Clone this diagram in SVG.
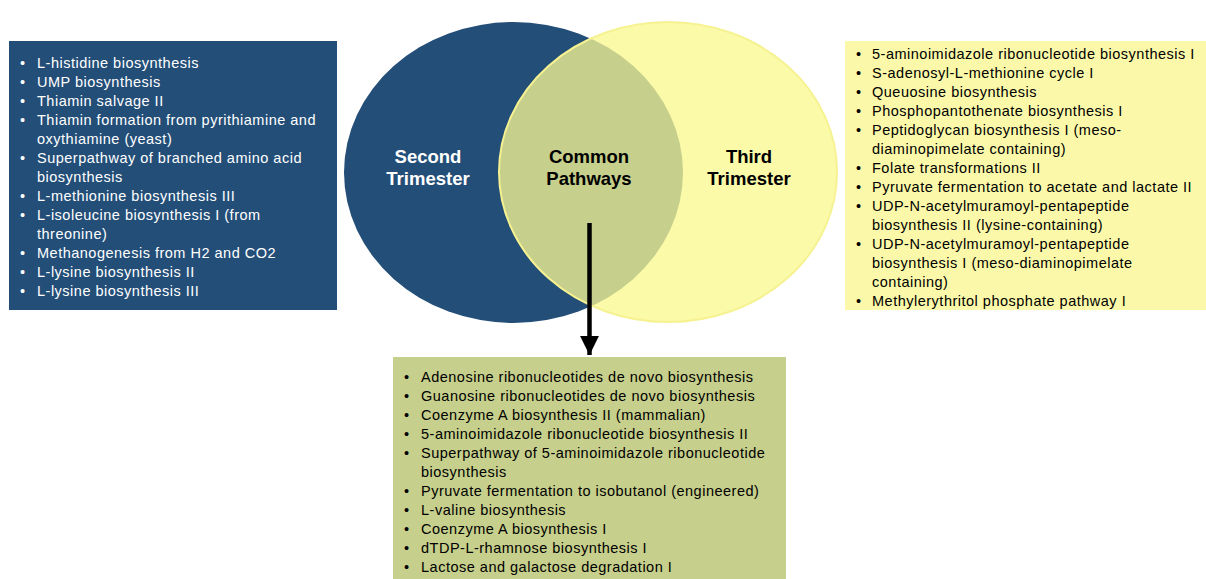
<svg xmlns="http://www.w3.org/2000/svg" width="1206" height="579" viewBox="0 0 1206 579">
<defs>
<style>
text{font-family:"Liberation Sans",Arial,sans-serif;}
.li{font-size:14.5px;letter-spacing:0.5px;}
.w{fill:#ffffff;}
.k{fill:#000000;}
.lbl{font-size:18.5px;font-weight:bold;text-anchor:middle;}
</style>
<clipPath id="yclip"><ellipse cx="668" cy="172" rx="169" ry="150"/></clipPath>
<marker id="ah" viewBox="0 0 10 10" refX="10" refY="5" markerWidth="4.2" markerHeight="4.2" orient="auto" markerUnits="strokeWidth"><path d="M0,0 L10,5 L0,10 z" fill="#000"/></marker>
</defs>
<rect width="1206" height="579" fill="#ffffff"/>
<g id="venn">
<ellipse cx="513.5" cy="172.5" rx="169.5" ry="150.5" fill="#234e78"/>
<ellipse cx="668" cy="172" rx="169" ry="150" fill="#fbfaa9"/>
<ellipse cx="513.5" cy="172.5" rx="169.5" ry="150.5" fill="#c6cf8b" clip-path="url(#yclip)"/>
<ellipse cx="668" cy="172" rx="169" ry="150" fill="none" stroke="#f6f291" stroke-width="2"/>
</g>
<g id="second-label"><text class="lbl w" x="428" y="163">Second</text><text class="lbl w" x="428" y="185">Trimester</text></g>
<g id="common-label"><text class="lbl k" x="589" y="163">Common</text><text class="lbl k" x="589" y="185">Pathways</text></g>
<g id="third-label"><text class="lbl k" x="749" y="163">Third</text><text class="lbl k" x="749" y="185">Trimester</text></g>
<g id="connectors">
<line x1="589.5" y1="223" x2="589.5" y2="355" stroke="#000" stroke-width="4.5" marker-end="url(#ah)"/>
</g>
<g id="second-list">
<rect x="9" y="41" width="328" height="269" fill="#234e78"/>
<g class="li w">
<text x="20" y="68">•</text><text x="37" y="68">L-histidine biosynthesis</text>
<text x="20" y="87">•</text><text x="37" y="87">UMP biosynthesis</text>
<text x="20" y="106">•</text><text x="37" y="106">Thiamin salvage II</text>
<text x="20" y="125">•</text><text x="37" y="125">Thiamin formation from pyrithiamine and</text>
<text x="37" y="144">oxythiamine (yeast)</text>
<text x="20" y="163">•</text><text x="37" y="163">Superpathway of branched amino acid</text>
<text x="37" y="182">biosynthesis</text>
<text x="20" y="201">•</text><text x="37" y="201">L-methionine biosynthesis III</text>
<text x="20" y="220">•</text><text x="37" y="220">L-isoleucine biosynthesis I (from</text>
<text x="37" y="239">threonine)</text>
<text x="20" y="258">•</text><text x="37" y="258">Methanogenesis from H2 and CO2</text>
<text x="20" y="277">•</text><text x="37" y="277">L-lysine biosynthesis II</text>
<text x="20" y="296">•</text><text x="37" y="296">L-lysine biosynthesis III</text>
</g>
</g>
<g id="third-list">
<rect x="845" y="41" width="361" height="269" fill="#fbf9a9"/>
<g class="li k">
<text x="856" y="59">•</text><text x="872" y="59">5-aminoimidazole ribonucleotide biosynthesis I</text>
<text x="856" y="78">•</text><text x="872" y="78">S-adenosyl-L-methionine cycle I</text>
<text x="856" y="97">•</text><text x="872" y="97">Queuosine biosynthesis</text>
<text x="856" y="116">•</text><text x="872" y="116">Phosphopantothenate biosynthesis I</text>
<text x="856" y="135">•</text><text x="872" y="135">Peptidoglycan biosynthesis I (meso-</text>
<text x="872" y="154">diaminopimelate containing)</text>
<text x="856" y="173">•</text><text x="872" y="173">Folate transformations II</text>
<text x="856" y="192">•</text><text x="872" y="192">Pyruvate fermentation to acetate and lactate II</text>
<text x="856" y="211">•</text><text x="872" y="211">UDP-N-acetylmuramoyl-pentapeptide</text>
<text x="872" y="230">biosynthesis II (lysine-containing)</text>
<text x="856" y="249">•</text><text x="872" y="249">UDP-N-acetylmuramoyl-pentapeptide</text>
<text x="872" y="268">biosynthesis I (meso-diaminopimelate</text>
<text x="872" y="287">containing)</text>
<text x="856" y="306">•</text><text x="872" y="306">Methylerythritol phosphate pathway I</text>
</g>
</g>
<g id="common-list">
<rect x="393" y="357" width="393" height="222" fill="#c6cf8b"/>
<g class="li k">
<text x="404" y="382">•</text><text x="421" y="382">Adenosine ribonucleotides de novo biosynthesis</text>
<text x="404" y="401">•</text><text x="421" y="401">Guanosine ribonucleotides de novo biosynthesis</text>
<text x="404" y="420">•</text><text x="421" y="420">Coenzyme A biosynthesis II (mammalian)</text>
<text x="404" y="439">•</text><text x="421" y="439">5-aminoimidazole ribonucleotide biosynthesis II</text>
<text x="404" y="458">•</text><text x="421" y="458">Superpathway of 5-aminoimidazole ribonucleotide</text>
<text x="421" y="477">biosynthesis</text>
<text x="404" y="496">•</text><text x="421" y="496">Pyruvate fermentation to isobutanol (engineered)</text>
<text x="404" y="515">•</text><text x="421" y="515">L-valine biosynthesis</text>
<text x="404" y="534">•</text><text x="421" y="534">Coenzyme A biosynthesis I</text>
<text x="404" y="553">•</text><text x="421" y="553">dTDP-L-rhamnose biosynthesis I</text>
<text x="404" y="572">•</text><text x="421" y="572">Lactose and galactose degradation I</text>
</g>
</g>
</svg>
